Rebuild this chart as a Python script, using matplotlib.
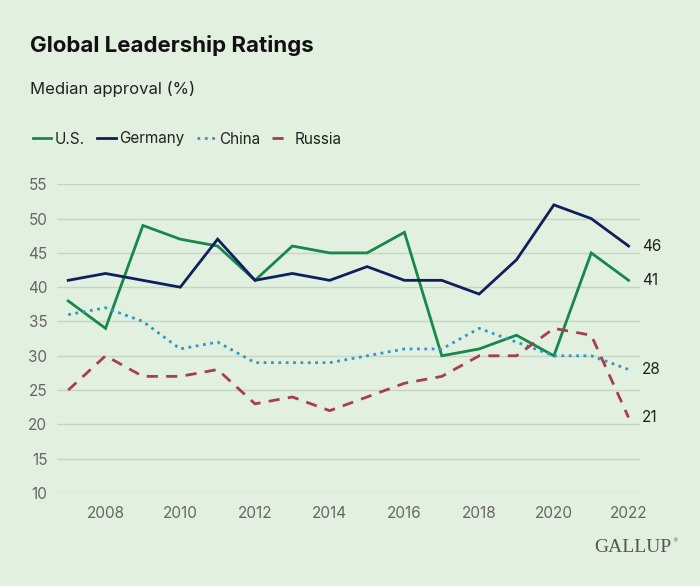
import matplotlib
matplotlib.use('Agg')
import matplotlib.pyplot as plt

years = list(range(2007, 2023))
us = [38, 34, 49, 47, 46, 41, 46, 45, 45, 48, 30, 31, 33, 30, 45, 41]
germany = [41, 42, 41, 40, 47, 41, 42, 41, 43, 41, 41, 39, 44, 52, 50, 46]
china = [36, 37, 35, 31, 32, 29, 29, 29, 30, 31, 31, 34, 32, 30, 30, 28]
russia = [25, 30, 27, 27, 28, 23, 24, 22, 24, 26, 27, 30, 30, 34, 33, 21]
x_ticks = [2008, 2010, 2012, 2014, 2016, 2018, 2020, 2022]
y_ticks = [10, 15, 20, 25, 30, 35, 40, 45, 50, 55]

bg = "#e2f0df"
plt.rcParams['font.family'] = ['Inter', 'DejaVu Sans']

fig = plt.figure(figsize=(7, 5.86), dpi=100, facecolor=bg)
ax = fig.add_axes([0.0814, 0.1587, 0.8326, 0.5268], facecolor=bg)

series = [
    ("U.S.", us, "#16884a", "-"),
    ("Germany", germany, "#0f1f5e", "-"),
    ("China", china, "#3196c8", ":"),
    ("Russia", russia, "#a63e4d", (0, (4, 3))),
]
for name, vals, col, ls in series:
    ax.plot(years, vals, color=col, linestyle=ls, lw=2.0, label=name,
            clip_on=False, solid_joinstyle='miter')
    ax.text(years[-1] + 0.35, vals[-1], str(vals[-1]), va='center', ha='left',
            fontsize=11, color="#222222")

ax.set_xlim(2006.7, 2022.3)
ax.set_ylim(10, 55)
ax.set_xticks(x_ticks)
ax.set_yticks(y_ticks)
ax.grid(axis='y', color="#c6d4c3", lw=1)
ax.set_axisbelow(True)
for s in ax.spines.values():
    s.set_visible(False)
ax.tick_params(length=0, labelsize=11, colors="#666666")
ax.tick_params(axis='x', pad=9)
ax.tick_params(axis='y', pad=7)

fig.text(30 / 700, 1 - 45 / 586, "Global Leadership Ratings", fontsize=16,
         fontweight='bold', va='center', ha='left', color="#111111")
fig.text(30 / 700, 1 - 89 / 586, "Median approval (%)", fontsize=12,
         va='center', ha='left', color="#222222")

fig.legend(loc='center left', bbox_to_anchor=(22 / 700, 1 - 139 / 586), ncol=4,
           frameon=False, fontsize=11, handlelength=1.2, handletextpad=0.25,
           columnspacing=0.8, borderpad=0.2, labelcolor="#222222")

fig.text(594 / 700, 1 - 548 / 586, "GALLUP", family="Liberation Serif",
         fontsize=14, color="#555555", va='center', ha='left')
fig.text(672 / 700, 1 - 541 / 586, "®", family="DejaVu Sans",
         fontsize=4, color="#555555", va='center', ha='left')

fig.savefig("out.png", dpi=100, facecolor=bg)
